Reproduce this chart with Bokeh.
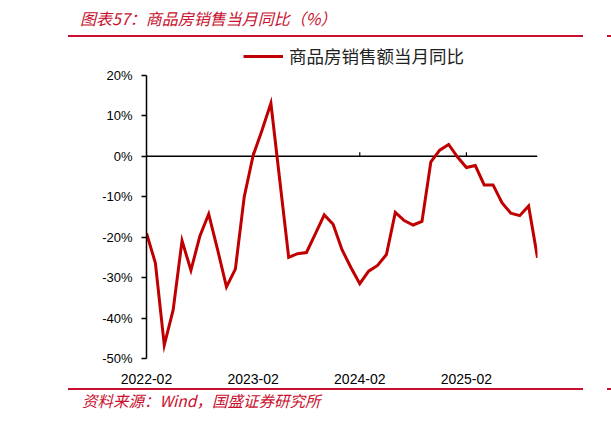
import pandas as pd
from bokeh.plotting import figure
from bokeh.models import (Range1d, FixedTicker, Span, Legend, LegendItem, Div, ColumnDataSource)
from bokeh.layouts import column
from bokeh.embed import file_html
from bokeh.resources import INLINE

# ---- data ----
months = list(pd.period_range("2022-02", "2025-10", freq="M").strftime("%Y-%m"))
sales_yoy = [
    -19.0, -26.4, -46.7, -38.0, -20.9, -28.2, -19.8, -14.3, -23.1, -32.3, -27.9,
    -10.0, 0.2, 6.4, 13.1, -6.0, -25.0, -24.1, -23.8, -19.2, -14.5, -16.8, -23.1,
    -27.5, -31.5, -28.4, -27.0, -24.3, -13.9, -15.9, -17.0, -16.1, -1.4, 1.5, 2.9,
    -0.2, -2.8, -2.3, -7.1, -7.1, -11.5, -14.1, -14.7, -12.3, -25.1,
]
series_name = "商品房销售额当月同比"
y_ticks = [20, 10, 0, -10, -20, -30, -40, -50]
y_labels = ["20%", "10%", "0%", "-10%", "-20%", "-30%", "-40%", "-50%"]
x_tick_labels = ["2022-02", "2023-02", "2024-02", "2025-02"]
title_text = "图表57：商品房销售当月同比（%）"
source_text = "资料来源：Wind，国盛证券研究所"

RED = "#C00000"
ACCENT = "#C8102E"
CJK = "Noto Sans CJK SC"

idx = list(range(len(months)))
x_ticks = [months.index(m) for m in x_tick_labels]

src = ColumnDataSource(dict(x=idx, y=sales_yoy))

# frame is taller than the axis (headroom for the legend); axis line bounded to -50..20
p = figure(width=611, height=346, output_backend="svg", toolbar_location=None,
           x_range=Range1d(0, len(months) - 1), y_range=Range1d(-50, 28.6),
           min_border_left=146, min_border_right=74, min_border_top=0, min_border_bottom=26)
p.outline_line_color = None
p.grid.visible = False
p.background_fill_color = "white"

zero = Span(location=0, dimension="width", line_color="black", line_width=1.5, level="underlay")
p.add_layout(zero)
p.segment(x0=x_ticks, y0=[0] * len(x_ticks), x1=x_ticks, y1=[1.0] * len(x_ticks),
          line_color="black", line_width=1.2, level="underlay")

r = p.line("x", "y", source=src, line_color=RED, line_width=3, line_join="miter")

# y axis
ya = p.yaxis[0]
ya.ticker = FixedTicker(ticks=y_ticks)
ya.bounds = (min(y_ticks), max(y_ticks))
ya.major_label_overrides = {t: l for t, l in zip(y_ticks, y_labels)}
ya.axis_line_width = 1.5
ya.axis_line_color = "black"
ya.major_tick_in = 0
ya.major_tick_out = 5
ya.major_tick_line_width = 1.5
ya.minor_tick_line_color = None
ya.major_label_text_font = "Liberation Sans"
ya.major_label_text_font_size = "13px"
ya.major_label_text_color = "black"
ya.major_label_standoff = 9

# x axis (labels only; the line is the zero span)
xa = p.xaxis[0]
xa.ticker = FixedTicker(ticks=x_ticks)
xa.major_label_overrides = {t: l for t, l in zip(x_ticks, x_tick_labels)}
xa.axis_line_color = None
xa.major_tick_line_color = None
xa.minor_tick_line_color = None
xa.major_label_text_font = "Liberation Sans"
xa.major_label_text_font_size = "14px"
xa.major_label_text_color = "black"
xa.major_label_standoff = 9

legend = Legend(items=[LegendItem(label=series_name, renderers=[r])],
                location=(97, 290), glyph_width=40, glyph_height=20, label_standoff=6,
                label_text_font=CJK, label_text_font_size="17.5px",
                label_text_color="#222222",
                border_line_color=None, background_fill_alpha=0,
                padding=0, margin=0, spacing=0)
p.add_layout(legend, "center")

title_div = Div(width=611, height=40, margin=0, text=f"""
<div style="position:relative;width:611px;height:40px;">
  <div style="position:absolute;left:80px;top:8px;font-family:'{CJK}';font-style:italic;font-size:16px;line-height:20px;color:{ACCENT};white-space:nowrap;">{title_text}</div>
  <div style="position:absolute;left:68px;top:35px;width:515px;height:2px;background:{ACCENT};"></div>
  <div style="position:absolute;left:607px;top:35px;width:4px;height:2px;background:{ACCENT};"></div>
</div>""")

footer_div = Div(width=611, height=35, margin=0, text=f"""
<div style="position:relative;width:611px;height:35px;">
  <div style="position:absolute;left:68px;top:2px;width:515px;height:2px;background:{ACCENT};"></div>
  <div style="position:absolute;left:607px;top:2px;width:4px;height:2px;background:{ACCENT};"></div>
  <div style="position:absolute;left:82px;top:5px;font-family:'{CJK}';font-style:italic;font-size:15.5px;line-height:18px;color:{ACCENT};white-space:nowrap;">{source_text}</div>
</div>""")

layout = column(title_div, p, footer_div, spacing=0)
open("out.html", "w").write(file_html(layout, INLINE))
